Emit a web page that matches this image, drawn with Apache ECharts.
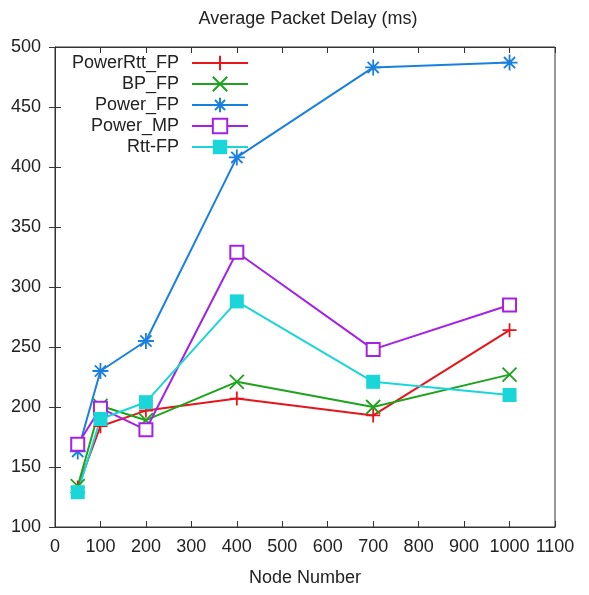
<!DOCTYPE html>
<html>
<head>
<meta charset="utf-8">
<script src="https://cdn.jsdelivr.net/npm/echarts@6/dist/echarts.min.js"></script>
<style>
html,body{margin:0;padding:0;background:#fff;}
#chart{width:589px;height:595px;}
</style>
</head>
<body>
<div id="chart"></div>
<script>
// 数据
var nodes = [50, 100, 200, 400, 700, 1000];
var powerRttFP = [133, 184, 197, 207, 193, 264];
var bpFP = [134, 201, 189, 221, 200, 227];
var powerFP = [163, 230, 255, 408, 483, 487];
var powerMP = [169, 199, 181, 329, 248, 285];
var rttFP = [129, 190, 204, 288, 221, 210];
var seriesNames = ['PowerRtt_FP', 'BP_FP', 'Power_FP', 'Power_MP', 'Rtt-FP'];

var fontFam = '"Liberation Sans", Arial, sans-serif';

function pairs(ys) {
    return nodes.map(function (x, i) { return [x, ys[i]]; });
}

// 标记符号
var symPlus = 'path://M0,5L10,5M5,0L5,10';
var symCross = 'path://M0,0L10,10M10,0L0,10';
var symStar = 'path://M0,5L10,5M5,0L5,10M1.5,1.5L8.5,8.5M8.5,1.5L1.5,8.5';

function mkSeries(name, ys, color, symbol, size, stroke) {
    var s = {
        name: name,
        type: 'line',
        data: pairs(ys),
        symbol: symbol,
        symbolSize: size,
        color: color,
        lineStyle: {color: color, width: 2},
        itemStyle: {color: color},
        emphasis: {disabled: true},
        z: 3
    };
    if (stroke) {
        s.itemStyle.borderColor = color;
        s.itemStyle.borderWidth = 1.8;
    }
    return s;
}

var plain = function (v) { return String(v); };

var myChart = echarts.init(document.getElementById('chart'));
var option = {
    animation: false,
    backgroundColor: '#fff',
    title: {
        text: 'Average Packet Delay (ms)',
        left: 303,
        textAlign: 'center',
        top: 5,
        textStyle: {fontFamily: fontFam, fontSize: 18, fontWeight: 'normal', color: '#222'}
    },
    legend: {
        orient: 'vertical',
        align: 'right',
        left: 72,
        top: 54,
        padding: 0,
        itemGap: 3,
        itemWidth: 56,
        itemHeight: 18,
        data: seriesNames,
        textStyle: {fontFamily: fontFam, fontSize: 18, color: '#222', padding: [0, 8, 0, 0]}
    },
    grid: {left: 55, right: 34, top: 47, bottom: 68, show: true, borderColor: '#333', borderWidth: 1},
    xAxis: [{
        type: 'value',
        min: 0, max: 1100, interval: 100,
        name: 'Node Number',
        nameLocation: 'middle',
        nameGap: 42,
        nameTextStyle: {fontFamily: fontFam, fontSize: 18, color: '#222'},
        axisLine: {lineStyle: {color: '#333'}},
        axisTick: {inside: true, length: 6, lineStyle: {color: '#333'}},
        axisLabel: {fontFamily: fontFam, fontSize: 18, color: '#222', margin: 11, formatter: plain},
        splitLine: {show: false}
    }, {
        type: 'value',
        position: 'top',
        min: 0, max: 1100, interval: 100,
        axisLine: {lineStyle: {color: '#333'}},
        axisTick: {inside: true, length: 6, lineStyle: {color: '#333'}},
        axisLabel: {show: false},
        splitLine: {show: false}
    }],
    yAxis: [{
        type: 'value',
        min: 100, max: 500, interval: 50,
        axisLine: {show: true, lineStyle: {color: '#333'}},
        axisTick: {show: true, inside: true, length: 6, lineStyle: {color: '#333'}},
        axisLabel: {fontFamily: fontFam, fontSize: 18, color: '#222', margin: 14, formatter: plain},
        splitLine: {show: false}
    }, {
        type: 'value',
        position: 'right',
        min: 100, max: 500, interval: 50,
        axisLine: {show: true, lineStyle: {color: '#333'}},
        axisTick: {show: true, inside: true, length: 6, lineStyle: {color: '#333'}},
        axisLabel: {show: false},
        splitLine: {show: false}
    }],
    series: [
        mkSeries('PowerRtt_FP', powerRttFP, '#e5161c', symPlus, 14, true),
        mkSeries('BP_FP', bpFP, '#1ea31e', symCross, 14, true),
        mkSeries('Power_FP', powerFP, '#1a80de', symStar, 16, true),
        mkSeries('Power_MP', powerMP, '#a421e6', 'emptyRect', 13, false),
        mkSeries('Rtt-FP', rttFP, '#1ad6d9', 'rect', 14, false)
    ]
};
myChart.setOption(option);
</script>
</body>
</html>
